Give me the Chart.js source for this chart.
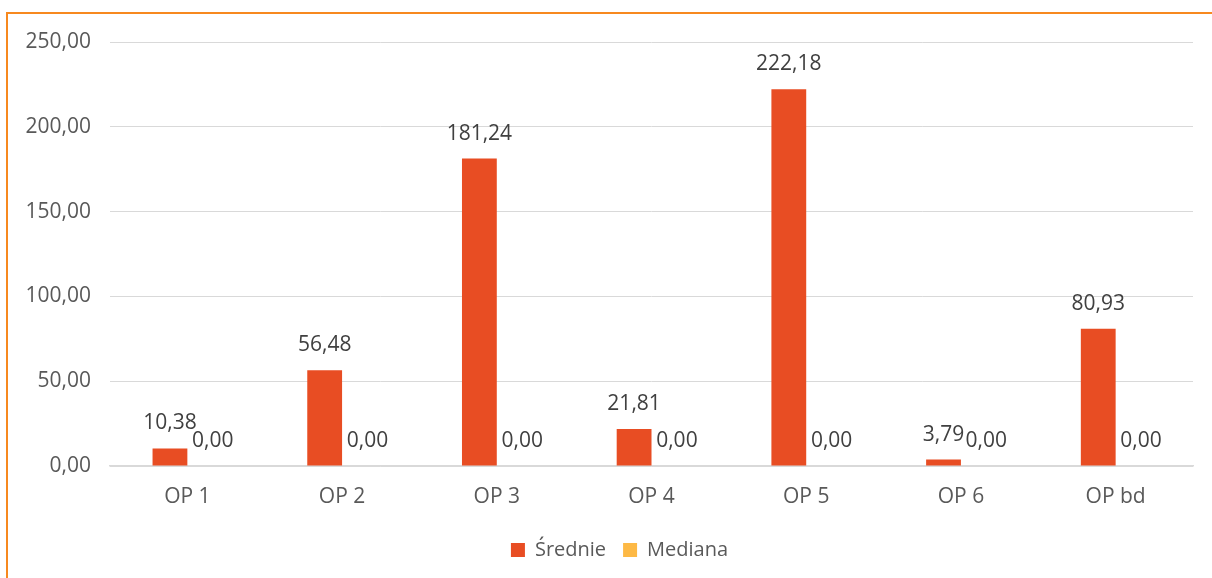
<!DOCTYPE html>
<html>
<head>
<meta charset="utf-8">
<script src="https://cdn.jsdelivr.net/npm/chart.js@4"></script>
<style>
    body { margin: 0; background: #fff; }
    #wrap { position: relative; width: 1212px; height: 578px; }
    #frame {
        position: absolute; left: 6px; top: 12px; right: 0; bottom: 0;
        border-left: 2px solid #F7891F; border-top: 2px solid #F7891F;
        pointer-events: none;
    }
    canvas { position: absolute; left: 0; top: 0; }
</style>
</head>
<body>
<div id="wrap">
    <canvas id="chart" width="1212" height="578"></canvas>
    <div id="frame"></div>
</div>
<script>
(function() {
    'use strict';

    // Chart data
    var categories = ['OP 1', 'OP 2', 'OP 3', 'OP 4', 'OP 5', 'OP 6', 'OP bd'];
    var srednie = [10.38, 56.48, 181.24, 21.81, 222.18, 3.79, 80.93];
    var mediana = [0, 0, 0, 0, 0, 0, 0];
    var yTicks = [0, 50, 100, 150, 200, 250];

    var FONT = '"Open Sans", "DejaVu Sans", sans-serif';

    function fmt(v) {
        return Number(v).toFixed(2).replace('.', ',');
    }

    // Draws value labels above each bar (Excel "outside end")
    var barLabels = {
        id: 'barLabels',
        afterLayout: function(chart) {
            // legend sits a little right of the canvas centre
            if (chart.legend) {
                chart.legend.left += 23;
                chart.legend.right += 23;
            }
        },
        afterDatasetsDraw: function(chart) {
            var ctx = chart.ctx;
            ctx.save();
            ctx.font = '21px ' + FONT;
            ctx.fillStyle = '#404040';
            ctx.textAlign = 'center';
            ctx.textBaseline = 'middle';
            chart.data.datasets.forEach(function(ds, di) {
                var meta = chart.getDatasetMeta(di);
                meta.data.forEach(function(bar, i) {
                    var shift = di === 1 ? 8 : 0;
                    ctx.fillText(fmt(ds.data[i]), bar.x + shift, bar.y - 25);
                });
            });
            ctx.restore();
        }
    };

    new Chart(document.getElementById('chart'), {
        type: 'bar',
        data: {
            labels: categories,
            datasets: [{
                label: 'Średnie',
                data: srednie,
                backgroundColor: '#E84D23',
                categoryPercentage: 0.45,
                barPercentage: 1
            }, {
                label: 'Mediana',
                data: mediana,
                backgroundColor: '#FDB945',
                categoryPercentage: 0.45,
                barPercentage: 1
            }]
        },
        options: {
            responsive: false,
            animation: false,
            layout: {
                padding: { top: 42, right: 19, bottom: 8, left: 0 }
            },
            plugins: {
                tooltip: { enabled: false },
                legend: {
                    position: 'bottom',
                    labels: {
                        boxWidth: 14,
                        boxHeight: 14,
                        padding: 17,
                        color: '#595959',
                        font: { family: FONT, size: 20 }
                    }
                }
            },
            scales: {
                x: {
                    grid: { display: false, drawTicks: false },
                    border: { display: true, color: '#D9D9D9', width: 1.5 },
                    ticks: {
                        padding: 18,
                        color: '#595959',
                        font: { family: FONT, size: 21 }
                    },
                    afterFit: function(scale) { scale.height = 57; }
                },
                y: {
                    min: 0,
                    max: 250,
                    afterBuildTicks: function(scale) {
                        scale.ticks = yTicks.map(function(v) { return { value: v }; });
                    },
                    grid: { color: '#D9D9D9', lineWidth: 1, drawTicks: false },
                    border: { display: false },
                    ticks: {
                        padding: 19,
                        color: '#595959',
                        font: { family: FONT, size: 21 },
                        callback: function(v) { return fmt(v); }
                    },
                    afterFit: function(scale) { scale.width = 110; }
                }
            }
        },
        plugins: [barLabels]
    });
})();
</script>
</body>
</html>
